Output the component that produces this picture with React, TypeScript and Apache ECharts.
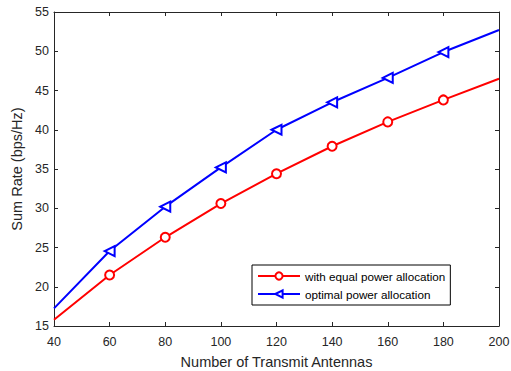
import React, { useEffect, useRef } from "react";
import * as echarts from "echarts";

const antennas = [40, 60, 80, 100, 120, 140, 160, 180, 200];
const equalPower = [15.8, 21.5, 26.3, 30.6, 34.4, 37.9, 41.0, 43.8, 46.5];
const optimalPower = [17.25, 24.55, 30.2, 35.2, 40.0, 43.5, 46.6, 49.9, 52.7];
const markerShown = [false, true, true, true, true, true, true, true, false];

const FONT = "Liberation Sans, Arial, Helvetica, sans-serif";
const TXT = "#262626";

export default function App() {
  const ref = useRef<HTMLDivElement>(null);
  useEffect(() => {
    const chart = echarts.init(ref.current!, undefined, { renderer: "svg" });
    const mk = (vals: number[]) =>
      vals.map((v, i) => ({
        value: [antennas[i], v],
        symbolSize: markerShown[i] ? undefined : 0,
      }));
    const axisCommon = {
      axisLine: { show: true, lineStyle: { color: TXT, width: 1 } },
      axisTick: { show: true, inside: true, length: 4, lineStyle: { color: TXT } },
      splitLine: { show: false },
    };
    chart.setOption({
      animation: false,
      backgroundColor: "#fff",
      textStyle: { fontFamily: FONT },
      grid: {
        left: 54,
        top: 12,
        right: 12,
        bottom: 45,
        containLabel: false,
        outerBoundsMode: "none",
      },
      xAxis: [
        {
          type: "value",
          min: 40,
          max: 200,
          interval: 20,
          ...axisCommon,
          axisLabel: { color: TXT, fontSize: 12.5, fontFamily: FONT, margin: 9 },
          name: "Number of Transmit Antennas",
          nameLocation: "middle",
          nameGap: 28,
          nameTextStyle: { color: TXT, fontSize: 14.5, fontFamily: FONT },
        },
        {
          type: "value",
          position: "top",
          min: 40,
          max: 200,
          interval: 20,
          ...axisCommon,
          axisLabel: { show: false },
        },
      ],
      yAxis: [
        {
          type: "value",
          min: 15,
          max: 55,
          interval: 5,
          ...axisCommon,
          axisLabel: { color: TXT, fontSize: 12.5, fontFamily: FONT, margin: 5 },
          name: "Sum Rate (bps/Hz)",
          nameLocation: "middle",
          nameGap: 27,
          nameTextStyle: { color: TXT, fontSize: 14.5, fontFamily: FONT },
        },
        {
          type: "value",
          position: "right",
          min: 15,
          max: 55,
          interval: 5,
          ...axisCommon,
          axisLabel: { show: false },
        },
      ],
      legend: {
        orient: "vertical",
        left: 252,
        top: 265,
        itemWidth: 42,
        itemHeight: 9,
        itemGap: 6,
        padding: [5, 5, 5, 5],
        borderColor: "#000",
        borderWidth: 1,
        backgroundColor: "#fff",
        textStyle: { color: "#000", fontSize: 11.7, fontFamily: FONT },
        data: ["with equal power allocation", "optimal power allocation"],
      },
      series: [
        {
          name: "with equal power allocation",
          type: "line",
          data: mk(equalPower),
          symbol: "emptyCircle",
          symbolSize: 9,
          color: "#ff0000",
          lineStyle: { color: "#ff0000", width: 2 },
          itemStyle: { color: "#ff0000", borderWidth: 2 },
        },
        {
          name: "optimal power allocation",
          type: "line",
          data: mk(optimalPower),
          symbol: "emptyTriangle",
          symbolRotate: 90,
          symbolSize: 10,
          color: "#0000ff",
          lineStyle: { color: "#0000ff", width: 2 },
          itemStyle: { color: "#0000ff", borderWidth: 2 },
        },
      ],
    });
    return () => chart.dispose();
  }, []);
  return <div ref={ref} style={{ width: 511, height: 371, position: "absolute", left: 0, top: 0 }} />;
}
